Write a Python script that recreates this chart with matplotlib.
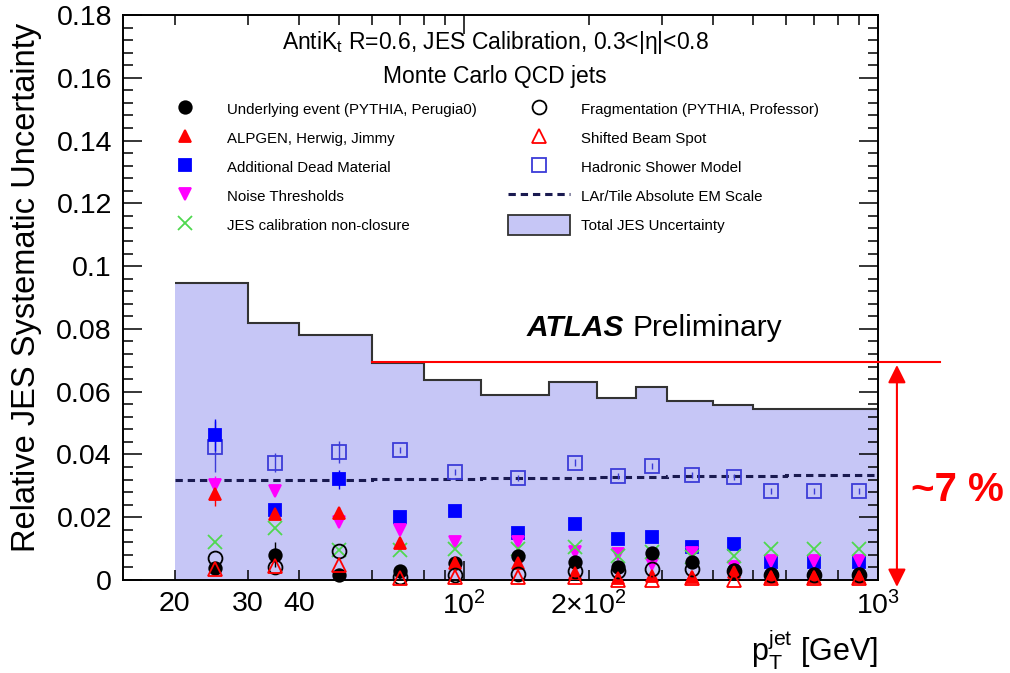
import numpy as np
import matplotlib
matplotlib.use("Agg")
import matplotlib.pyplot as plt
from matplotlib.lines import Line2D
from matplotlib.patches import Patch
from matplotlib.ticker import FixedLocator, FuncFormatter, MultipleLocator

plt.rcParams['font.family'] = ['Liberation Sans', 'DejaVu Sans']
plt.rcParams['mathtext.fontset'] = 'custom'
plt.rcParams['mathtext.rm'] = 'Liberation Sans'
plt.rcParams['mathtext.it'] = 'Liberation Sans:italic'
plt.rcParams['mathtext.bf'] = 'Liberation Sans:bold'

# pT binning (GeV)
edges = [20, 30, 40, 60, 80, 110, 160, 210, 260, 310, 400, 500, 600, 800, 1000]
pt = [25, 35, 50, 70, 95, 135, 185, 235, 285, 355, 450, 550, 700, 900]

# total JES uncertainty and the individual contributions
total_jes = [0.0945, 0.082, 0.078, 0.069, 0.0637, 0.059, 0.0632, 0.058, 0.0615,
             0.0571, 0.0556, 0.0545, 0.0545, 0.0545]
lar_em = [0.0318, 0.0319, 0.0320, 0.0321, 0.0322, 0.0324, 0.0326, 0.0327, 0.0329,
          0.0330, 0.0331, 0.0332, 0.0333, 0.0334]
underlying = [0.0037, 0.0081, 0.0017, 0.0028, 0.0053, 0.0078, 0.0058, 0.0040, 0.0087,
              0.0058, 0.0032, 0.0020, 0.0018, 0.0018]
fragmentation = [0.0070, 0.0042, 0.0092, 0.0008, 0.0016, 0.0020, 0.0030, 0.0028, 0.0035,
                 0.0036, 0.0030, 0.0015, 0.0015, 0.0015]
alpgen = [0.0275, 0.0210, 0.0212, 0.0117, 0.0054, 0.0053, 0.0021, 0.0006, 0.0014,
          0.0011, 0.0027, 0.0011, 0.0011, 0.0011]
beam_spot = [0.0035, 0.0045, 0.0048, 0.0005, 0.0011, 0.0010, 0.0008, 0.0, 0.0,
             0.0005, 0.0, 0.0005, 0.0005, 0.0005]
dead_material = [0.0462, 0.0223, 0.0321, 0.0202, 0.0220, 0.0149, 0.0177, 0.0130, 0.0137,
                 0.0106, 0.0116, 0.0057, 0.0057, 0.0057]
dead_material_err = [0.005, 0.001, 0.003, 0, 0, 0, 0, 0, 0, 0, 0, 0, 0, 0]
hadronic = [0.0425, 0.0374, 0.0409, 0.0414, 0.0345, 0.0326, 0.0374, 0.0331, 0.0363,
            0.0335, 0.0329, 0.0284, 0.0284, 0.0284]
hadronic_err = [0.008, 0.003, 0.0035, 0.001, 0.001, 0.001, 0.001, 0.001, 0.001,
                0.001, 0.001, 0.001, 0.001, 0.001]
noise = [0.0302, 0.0282, 0.0186, 0.0160, 0.0120, 0.0120, 0.0088, 0.0082, 0.0050,
         0.0085, 0.0042, 0.0061, 0.0061, 0.0060]
noise_err = [0.003, 0.001, 0.001, 0, 0, 0, 0, 0, 0, 0, 0, 0, 0, 0]
alpgen_err = [0.004, 0.001, 0.002, 0, 0, 0, 0, 0, 0, 0, 0, 0, 0, 0]
underlying_err = [0.001, 0.004, 0.001, 0, 0, 0, 0, 0, 0, 0, 0, 0, 0, 0]
nonclosure = [0.0122, 0.0165, 0.0097, 0.0094, 0.0099, 0.0098, 0.0105, 0.0078, 0.0088,
              0.0072, 0.0078, 0.0099, 0.0099, 0.0099]

fill_col = '#c6c6f6'
blue = '#0000ff'
open_blue = '#3c3cd8'
red = '#ff0000'
magenta = '#ff00ff'
green = '#4fd84f'

fig = plt.figure(figsize=(10.1, 6.73), dpi=100)
ax = fig.add_axes([0.1218, 0.1382, 0.7475, 0.8395])

ax.stairs(total_jes, edges, fill=True, color=fill_col, lw=0, zorder=1)
ax.stairs(total_jes, edges, baseline=None, color='#333333', lw=1.5, zorder=2)
ax.stairs(lar_em, edges, baseline=None, color='#1a1a50', lw=2.2,
          linestyle=(0, (2.4, 1.6)), zorder=3)

ms = 9
def pts(y, err, marker, color, filled=True, size=ms, z=4):
    face = color if filled else 'none'
    ax.errorbar(pt, y, yerr=err, fmt=marker, ms=size, mfc=face, mec=color,
                mew=1.3, ecolor=color, elinewidth=1.0, capsize=0,
                zorder=z, clip_on=False)

zeros = [0] * len(pt)
pts(hadronic, hadronic_err, 's', open_blue, filled=False, size=10)
pts(dead_material, dead_material_err, 's', blue)
pts(noise, noise_err, 'v', magenta)
pts(nonclosure, zeros, 'x', green, size=10)
pts(underlying, underlying_err, 'o', 'black')
pts(alpgen, alpgen_err, '^', red)
pts(fragmentation, zeros, 'o', 'black', filled=False, size=10)
pts(beam_spot, zeros, '^', red, filled=False, size=10)

ax.set_xscale('log')
ax.set_xlim(15, 1000)
ax.set_ylim(0, 0.18)

# axis ticks in ROOT style
ax.xaxis.set_major_locator(FixedLocator([100, 1000]))
ax.xaxis.set_minor_locator(FixedLocator([20, 30, 40, 50, 60, 70, 80, 90,
                                         200, 300, 400, 500, 600, 700, 800, 900]))
major_lab = {100: r'$\mathrm{10^{2}}$', 1000: r'$\mathrm{10^{3}}$'}
minor_lab = {20: '20', 30: '30', 40: '40', 200: r'$\mathrm{2{\times}10^{2}}$'}
ax.xaxis.set_major_formatter(FuncFormatter(lambda v, p: major_lab.get(int(round(v)), '')))
ax.xaxis.set_minor_formatter(FuncFormatter(lambda v, p: minor_lab.get(int(round(v)), '')))
ax.yaxis.set_major_locator(MultipleLocator(0.02))
ax.yaxis.set_minor_locator(MultipleLocator(0.004))
ax.yaxis.set_major_formatter(FuncFormatter(lambda v, p: '%g' % round(v, 3)))

ax.tick_params(which='both', direction='in', top=True, right=True, width=1.1,
               labelsize=20.5)
ax.tick_params(which='major', length=14)
ax.tick_params(which='minor', length=7)
ax.tick_params(axis='y', pad=8)
ax.tick_params(axis='x', which='both', pad=8)
for s in ax.spines.values():
    s.set_linewidth(1.4)

ax.set_ylabel('Relative JES Systematic Uncertainty', fontsize=23.5)
ax.yaxis.set_label_coords(-0.107, 0.517)
ax.set_xlabel(r'$\mathrm{p_{T}^{jet}}$ [GeV]', fontsize=22, loc='right')
ax.xaxis.set_label_coords(1.0, -0.085)

ax.text(0.493, 0.952, r'AntiK$_\mathrm{t}$ R=0.6, JES Calibration, 0.3<|η|<0.8',
        transform=ax.transAxes, ha='center', va='center', fontsize=16.5)
ax.text(0.493, 0.892, 'Monte Carlo QCD jets', transform=ax.transAxes,
        ha='center', va='center', fontsize=16.5)

ax.text(0.535, 0.446, 'ATLAS', transform=ax.transAxes, ha='left', va='center',
        fontsize=21.5, fontweight='bold', fontstyle='italic')
ax.text(0.675, 0.446, 'Preliminary', transform=ax.transAxes, ha='left', va='center',
        fontsize=21.5)

def mk(marker, color, filled=True, size=ms):
    return Line2D([], [], ls='none', marker=marker, ms=size, mew=1.3, mec=color,
                  mfc=color if filled else 'none')

handles = [mk('o', 'black'), mk('^', red), mk('s', blue), mk('v', magenta),
           mk('x', green, size=10),
           mk('o', 'black', False, 10), mk('^', red, False, 10),
           mk('s', open_blue, False, 10),
           Line2D([], [], color='#1a1a50', lw=2.2, ls=(0, (2.4, 1.6))),
           Patch(facecolor=fill_col, edgecolor='#333333', lw=1.3)]
labels = ['Underlying event (PYTHIA, Perugia0)', 'ALPGEN, Herwig, Jimmy',
          'Additional Dead Material', 'Noise Thresholds', 'JES calibration non-closure',
          'Fragmentation (PYTHIA, Professor)', 'Shifted Beam Spot',
          'Hadronic Shower Model', 'LAr/Tile Absolute EM Scale', 'Total JES Uncertainty']
ax.legend(handles, labels, ncol=2, loc='upper left', bbox_to_anchor=(0.041, 0.850),
          frameon=False, fontsize=10.8, handlelength=4.1, handleheight=1.6,
          handletextpad=0.75, columnspacing=2.1, labelspacing=0.64, borderpad=0,
          borderaxespad=0, numpoints=1)

# ~7 % annotation
ax.plot([60, 1412], [0.0694, 0.0694], color=red, lw=1.5, clip_on=False, zorder=6)
ax.annotate('', xy=(1111, -0.0022), xytext=(1111, 0.0685),
            arrowprops=dict(arrowstyle='<|-|>,head_length=0.4,head_width=0.2',
                            color=red, lw=1.5, mutation_scale=27,
                            shrinkA=0, shrinkB=0),
            annotation_clip=False)
ax.text(1560, 0.0287, '~7 %', color=red, fontsize=29, fontweight='bold',
        ha='center', va='center', clip_on=False)

fig.savefig('out.png', dpi=100)
